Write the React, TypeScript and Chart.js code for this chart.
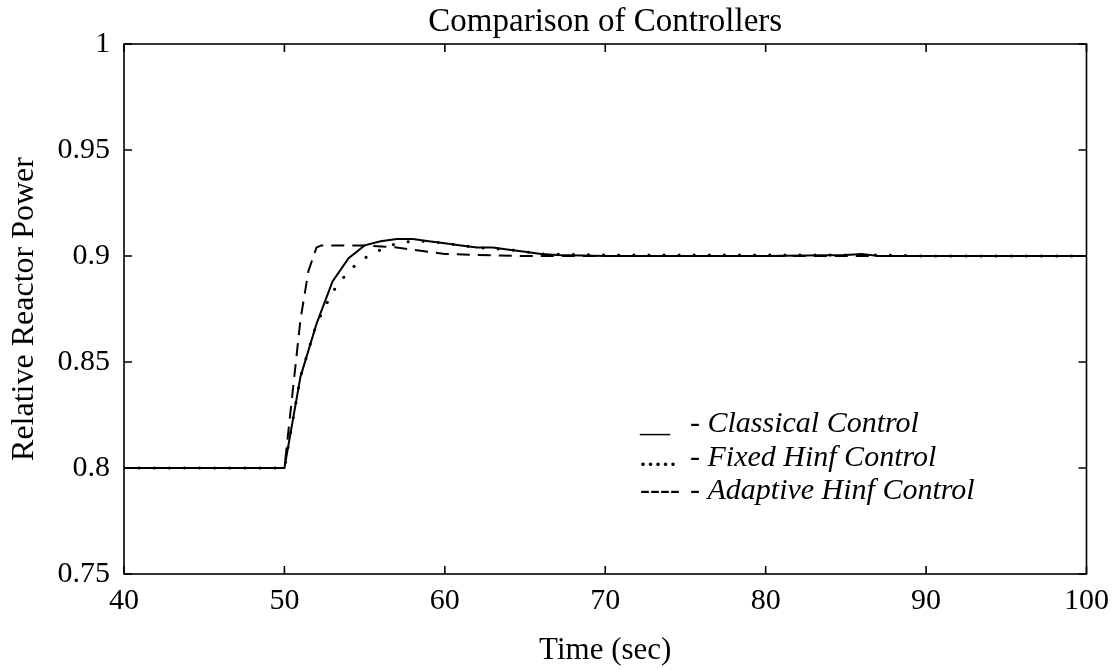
import React, { useEffect, useRef } from "react";
import { Chart, registerables } from "chart.js";

Chart.register(...registerables);

const chartTitle = "Comparison of Controllers";
const xTitle = "Time (sec)";
const yTitle = "Relative Reactor Power";

const classicalTime = [40, 50, 51, 52, 53, 54, 55, 56, 57, 58, 59, 60, 61, 62, 63, 64, 65, 66, 67, 70, 75, 80, 85, 86, 87, 88, 90, 95, 100];
const classicalPower = [0.8, 0.8, 0.843, 0.868, 0.888, 0.899, 0.905, 0.907, 0.908, 0.908, 0.907, 0.906, 0.905, 0.904, 0.904, 0.903, 0.902, 0.901, 0.9005, 0.9, 0.9, 0.9, 0.9005, 0.901, 0.9, 0.9, 0.9, 0.9, 0.9];

const fixedTime = [40, 50, 51, 52, 53, 54, 55, 56, 57, 58, 59, 60, 62, 64, 66, 70, 75, 80, 85, 87, 90, 95, 100];
const fixedPower = [0.8, 0.8, 0.843, 0.868, 0.883, 0.893, 0.899, 0.903, 0.906, 0.907, 0.907, 0.906, 0.904, 0.903, 0.901, 0.9005, 0.9005, 0.9005, 0.9005, 0.9005, 0.9, 0.9, 0.9];

const adaptiveTime = [40, 50, 50.5, 51, 51.5, 52, 52.3, 55, 57, 58, 59, 60, 62, 65, 70, 100];
const adaptivePower = [0.8, 0.8, 0.835, 0.87, 0.893, 0.904, 0.905, 0.905, 0.904, 0.903, 0.902, 0.901, 0.9005, 0.9, 0.9, 0.9];

const legendMarkers = ["__", ".....", "----"];
const legendLabels = ["- Classical Control", "- Fixed Hinf Control", "- Adaptive Hinf Control"];

const xTicks = [40, 50, 60, 70, 80, 90, 100];
const yTicks = [0.75, 0.8, 0.85, 0.9, 0.95, 1];

const toPoints = (xs: number[], ys: number[]) => xs.map((x, i) => ({ x, y: ys[i] }));

const SERIF = '"Liberation Serif", "Times New Roman", serif';

const framePlugin = {
  id: "frame",
  afterDraw(chart: any) {
    const { ctx, chartArea, scales } = chart;
    const { left, right, top, bottom } = chartArea;
    ctx.save();
    ctx.strokeStyle = "#000";
    ctx.lineWidth = 1.6;
    ctx.strokeRect(left, top, right - left, bottom - top);
    const len = 8;
    ctx.beginPath();
    xTicks.forEach((v) => {
      const px = scales.x.getPixelForValue(v);
      ctx.moveTo(px, bottom);
      ctx.lineTo(px, bottom - len);
      ctx.moveTo(px, top);
      ctx.lineTo(px, top + len);
    });
    yTicks.forEach((v) => {
      const py = scales.y.getPixelForValue(v);
      ctx.moveTo(left, py);
      ctx.lineTo(left + len, py);
      ctx.moveTo(right, py);
      ctx.lineTo(right - len, py);
    });
    ctx.stroke();

    ctx.fillStyle = "#000";
    ctx.font = `italic 30px ${SERIF}`;
    ctx.textBaseline = "alphabetic";
    ctx.textAlign = "left";
    const baseY = [388, 422, 455];
    legendLabels.forEach((t, i) => {
      ctx.fillText(legendMarkers[i], left + 516, top + baseY[i]);
      ctx.fillText(t, left + 566, top + baseY[i]);
    });
    ctx.restore();
  },
};

export default function App() {
  const ref = useRef<HTMLCanvasElement | null>(null);
  useEffect(() => {
    document.body.style.margin = "0";
    const canvas = ref.current;
    if (!canvas) return;
    const chart = new Chart(canvas, {
      type: "line",
      data: {
        datasets: [
          {
            label: "Classical Control",
            data: toPoints(classicalTime, classicalPower),
            borderColor: "#000",
            borderWidth: 2,
            pointRadius: 0,
            tension: 0,
          },
          {
            label: "Fixed Hinf Control",
            data: toPoints(fixedTime, fixedPower),
            borderColor: "#000",
            borderWidth: 3,
            borderDash: [0.1, 15],
            borderCapStyle: "round",
            pointRadius: 0,
            tension: 0,
          },
          {
            label: "Adaptive Hinf Control",
            data: toPoints(adaptiveTime, adaptivePower),
            borderColor: "#000",
            borderWidth: 2,
            borderDash: [13, 8],
            pointRadius: 0,
            tension: 0,
          },
        ],
      },
      options: {
        animation: false,
        responsive: false,
        layout: { padding: { left: 0, right: 30, top: 0, bottom: 0 } },
        plugins: {
          legend: { display: false },
          tooltip: { enabled: false },
          title: {
            display: true,
            fullSize: false,
            text: chartTitle,
            color: "#000",
            font: { family: SERIF, size: 33, weight: "normal" },
            padding: { top: 3, bottom: 1.4 },
          },
        },
        scales: {
          x: {
            type: "linear",
            min: 40,
            max: 100,
            afterBuildTicks: (s: any) => {
              s.ticks = xTicks.map((v) => ({ value: v }));
            },
            afterFit: (s: any) => {
              s.height = 96;
            },
            grid: { display: false, drawTicks: false },
            border: { display: false },
            ticks: {
              color: "#000",
              font: { family: SERIF, size: 30 },
              padding: 9,
              maxRotation: 0,
            },
            title: {
              display: true,
              text: xTitle,
              color: "#000",
              font: { family: SERIF, size: 31 },
              padding: { top: 0, bottom: 1 },
            },
          },
          y: {
            type: "linear",
            min: 0.75,
            max: 1,
            afterBuildTicks: (s: any) => {
              s.ticks = yTicks.map((v) => ({ value: v }));
            },
            afterFit: (s: any) => {
              s.width = 124;
            },
            grid: { display: false, drawTicks: false },
            border: { display: false },
            ticks: {
              color: "#000",
              font: { family: SERIF, size: 30 },
              padding: 14,
              callback: (v: any) => String(Math.round(Number(v) * 100) / 100),
            },
            title: {
              display: true,
              text: yTitle,
              color: "#000",
              font: { family: SERIF, size: 32 },
              padding: { top: 5, bottom: 0 },
            },
          },
        },
      },
      plugins: [framePlugin],
    } as any);
    return () => chart.destroy();
  }, []);
  return (
    <div style={{ width: 1118, height: 670, background: "#fff" }}>
      <canvas ref={ref} width={1118} height={670} style={{ display: "block" }} />
    </div>
  );
}
